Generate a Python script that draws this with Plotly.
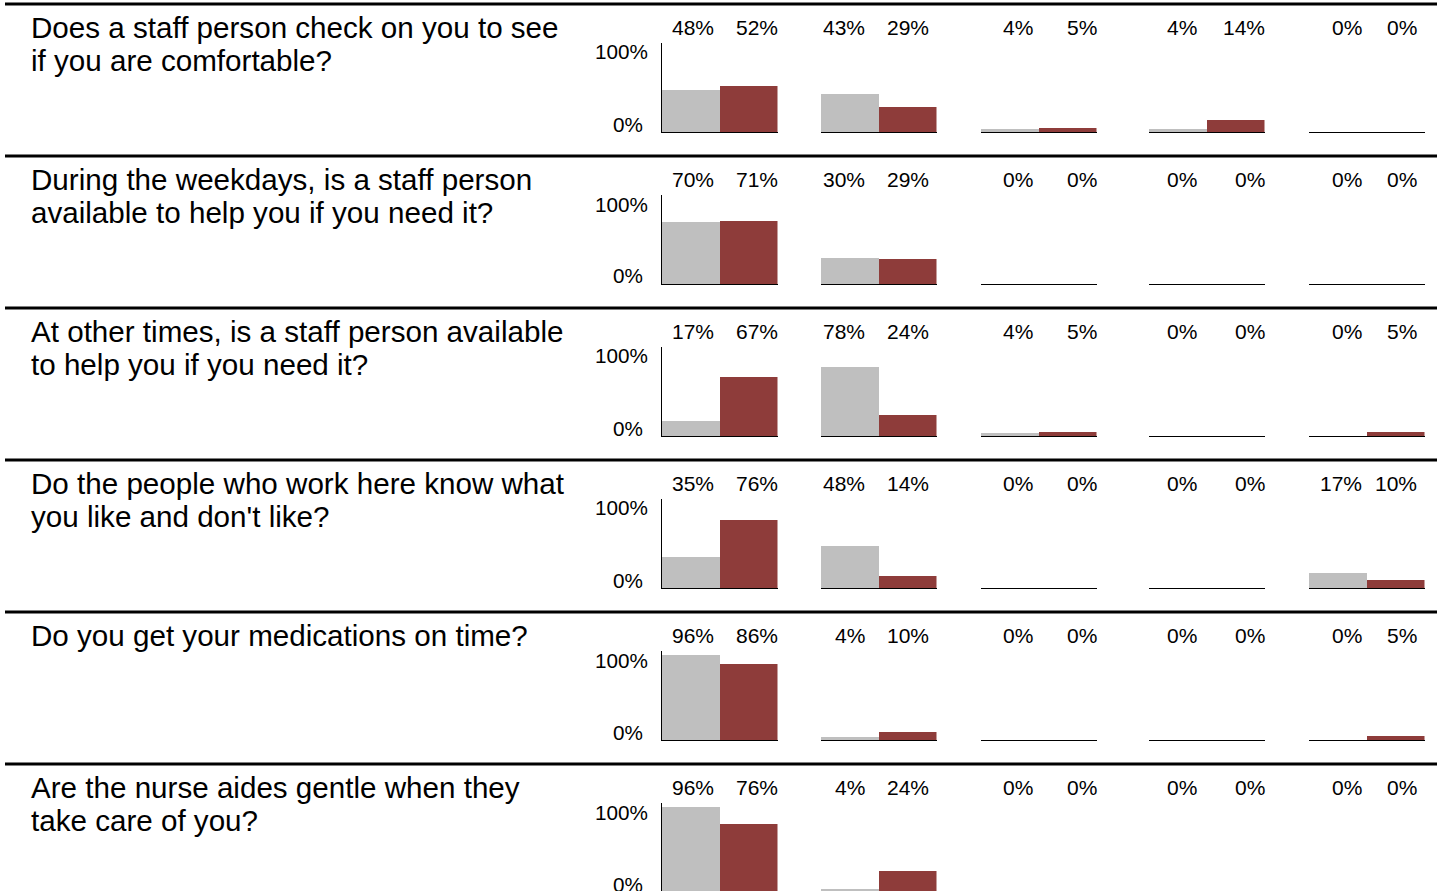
import plotly.graph_objects as go

# ---------------- data ----------------
questions = [
    "Does a staff person check on you to see\nif you are comfortable?",
    "During the weekdays, is a staff person\navailable to help you if you need it?",
    "At other times, is a staff person available\nto help you if you need it?",
    "Do the people who work here know what\nyou like and don't like?",
    "Do you get your medications on time?",
    "Are the nurse aides gentle when they\ntake care of you?",
]
responses = ["Response 1", "Response 2", "Response 3", "Response 4", "Response 5"]
grey_values = [
    [48, 43, 4, 4, 0],
    [70, 30, 0, 0, 0],
    [17, 78, 4, 0, 0],
    [35, 48, 0, 0, 17],
    [96, 4, 0, 0, 0],
    [96, 4, 0, 0, 0],
]
red_values = [
    [52, 29, 5, 14, 0],
    [71, 29, 0, 0, 0],
    [67, 24, 5, 0, 5],
    [76, 14, 0, 0, 10],
    [86, 10, 0, 0, 5],
    [76, 24, 0, 0, 0],
]
tick_values = [0, 100]
tick_labels = ["0%", "100%"]

# ---------------- style / layout ----------------
W, H = 1437, 891
GREY = "#BFBFBF"
RED = "#8E3C3A"
FONT = "Liberation Sans, Arial, sans-serif"
ROW_PITCH = 152
SEP_Y = 4
PLOT_TOP = 42.5
PLOT_BASE = 132
GROUP_LEFT = [661.5, 820.5, 980.5, 1148.5, 1308.5]
GROUP_WIDTH = 116
GREY_LABEL_SHIFT = [-6, -13.5, -6, -10, -5]
RED_LABEL_SHIFT = [0, -8, 0, 0, -8]
Q_FONT = 29.6
Q_X = 31
Q_LINE1 = 27.5
Q_LINE_STEP = 33.4
VAL_FONT = 21
VAL_Y = 27.3
TICK_FONT = 20.7
TICK_Y = {100: 52, 0: 124}
TICK_RIGHT = {100: 648, 0: 643}


def py(px):
    return 1 - px / H


fig = go.Figure()
axes = {}
annotations = []
shapes = []

for r in range(len(questions)):
    off = r * ROW_PITCH
    top_px = PLOT_TOP + off
    base_px = PLOT_BASE + off
    bottom_px = min(base_px, H)
    per_pct = (base_px - top_px) / 100.0
    lo = (base_px - bottom_px) / per_pct
    yref = "y" if r == 0 else f"y{r+1}"
    yname = "yaxis" if r == 0 else f"yaxis{r+1}"
    first_x = "x" if r == 0 else f"x{r*5+1}"
    axes[yname] = dict(
        domain=[py(bottom_px), py(top_px)], range=[lo, 100], anchor=first_x,
        showline=True, linecolor="black", linewidth=1, showgrid=False,
        zeroline=False, showticklabels=False, ticks="", fixedrange=True,
    )
    for g in range(len(responses)):
        idx = r * 5 + g + 1
        xref = "x" if idx == 1 else f"x{idx}"
        xname = "xaxis" if idx == 1 else f"xaxis{idx}"
        axes[xname] = dict(
            domain=[GROUP_LEFT[g] / W, (GROUP_LEFT[g] + GROUP_WIDTH) / W],
            type="category", range=[-0.5, 0.5], anchor=yref,
            showline=base_px <= H, linecolor="black", linewidth=1,
            showgrid=False, zeroline=False, showticklabels=False, ticks="",
            fixedrange=True,
        )
        fig.add_bar(x=[responses[g]], y=[grey_values[r][g]], xaxis=xref, yaxis=yref,
                    marker=dict(color=GREY, line_width=0), showlegend=False,
                    name="Series 1", cliponaxis=True)
        fig.add_bar(x=[responses[g]], y=[red_values[r][g]], xaxis=xref, yaxis=yref,
                    marker=dict(color=RED, line_width=0), showlegend=False,
                    name="Series 2", cliponaxis=True)
        # value labels
        annotations.append(dict(
            text=f"{grey_values[r][g]}%", xref=f"{xref} domain", x=0.5, xanchor="right",
            xshift=GREY_LABEL_SHIFT[g], yref="paper", y=py(VAL_Y + off), yanchor="middle",
            showarrow=False, borderpad=0, borderwidth=0,
            font=dict(family=FONT, size=VAL_FONT, color="black")))
        annotations.append(dict(
            text=f"{red_values[r][g]}%", xref=f"{xref} domain", x=1.0, xanchor="right",
            xshift=RED_LABEL_SHIFT[g], yref="paper", y=py(VAL_Y + off), yanchor="middle",
            showarrow=False, borderpad=0, borderwidth=0,
            font=dict(family=FONT, size=VAL_FONT, color="black")))
    # y tick labels
    for tv, tl in zip(tick_values, tick_labels):
        annotations.append(dict(
            text=tl, xref="paper", x=TICK_RIGHT[tv] / W, xanchor="right",
            yref="paper", y=py(TICK_Y[tv] + off), yanchor="middle",
            showarrow=False, borderpad=0, borderwidth=0,
            font=dict(family=FONT, size=TICK_FONT, color="black")))
    # question text
    for li, line in enumerate(questions[r].split("\n")):
        annotations.append(dict(
            text=line, xref="paper", x=Q_X / W, xanchor="left",
            yref="paper", y=py(Q_LINE1 + li * Q_LINE_STEP + off), yanchor="middle",
            showarrow=False, borderpad=0, borderwidth=0,
            font=dict(family=FONT, size=Q_FONT, color="black")))
    # separator line
    shapes.append(dict(type="line", xref="paper", yref="paper", x0=5 / W, x1=1,
                       y0=py(SEP_Y + off), y1=py(SEP_Y + off),
                       line=dict(color="black", width=3)))

fig.update_layout(
    width=W, height=H, margin=dict(l=0, r=0, t=0, b=0),
    paper_bgcolor="white", plot_bgcolor="white",
    barmode="group", bargap=0, bargroupgap=0,
    showlegend=False, annotations=annotations, shapes=shapes,
    font=dict(family=FONT, color="black"),
    **axes,
)

fig.write_html(
    "out.html",
    config={"displayModeBar": False},
    post_script="document.body.style.margin='0';document.body.style.overflow='hidden';",
)
